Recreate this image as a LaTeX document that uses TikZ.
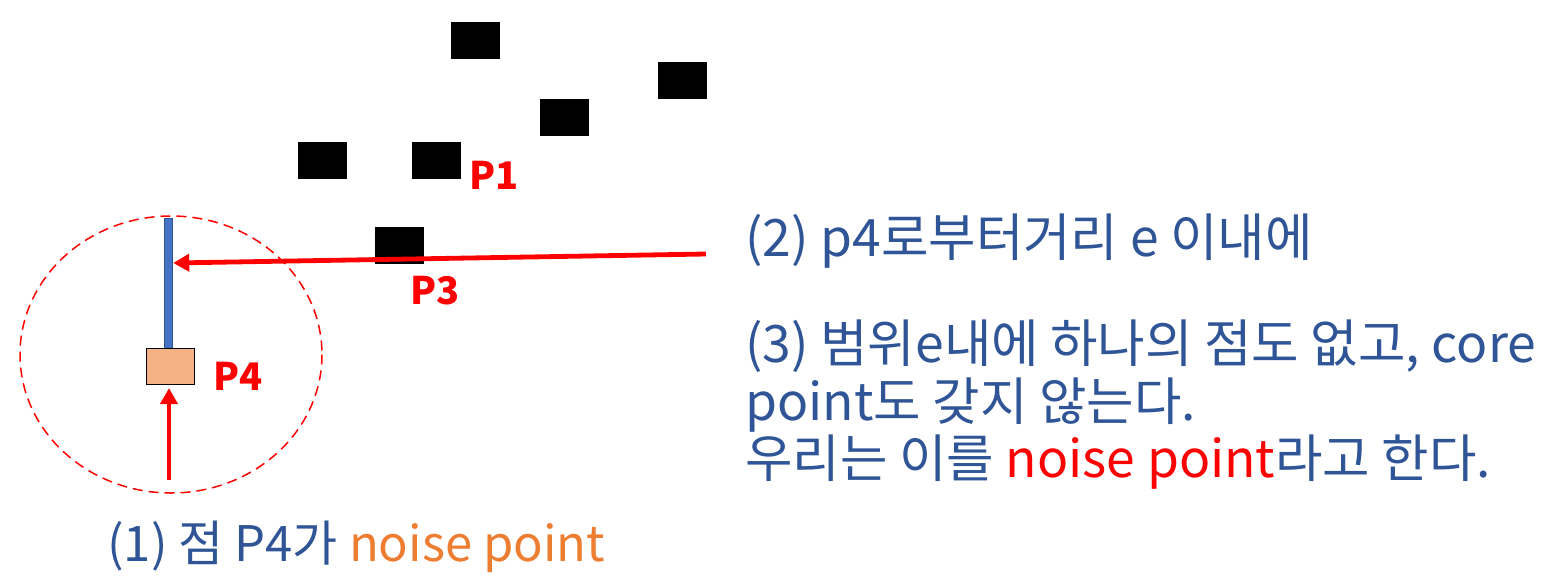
\documentclass[tikz,border=0pt]{standalone}
\usepackage{fontspec}
\setmainfont{Noto Sans CJK KR}
\usepackage{tikz}
\usetikzlibrary{arrows.meta,positioning,calc}

\definecolor{txtblue}{HTML}{2F5597}
\definecolor{noiseorange}{HTML}{ED7D31}
\definecolor{ptred}{HTML}{FF0000}
\definecolor{p4fill}{HTML}{F4B183}
\definecolor{barfill}{HTML}{4472C4}
\definecolor{bardraw}{HTML}{2F528F}

\begin{document}
\begin{tikzpicture}[
    x=0.5pt, y=-0.5pt,
    datapt/.style={
        rectangle,
        fill=black,
        minimum width=24.5pt,
        minimum height=18.5pt,
        inner sep=0pt
    },
    noisept/.style={
        rectangle,
        draw=black,
        fill=p4fill,
        line width=0.6pt,
        minimum width=24pt,
        minimum height=18pt,
        inner sep=0pt
    },
    reach/.style={
        rectangle,
        draw=bardraw,
        fill=barfill,
        line width=0.7pt,
        minimum width=4pt,
        minimum height=65pt,
        inner sep=0pt
    },
    ptlabel/.style={
        text=ptred,
        font=\fontsize{19}{23}\selectfont\bfseries,
        anchor=base west,
        inner sep=0pt
    },
    note/.style={
        text=txtblue,
        font=\fontsize{25.8}{30}\selectfont,
        anchor=base west,
        inner sep=0pt
    },
    redarrow/.style={
        -{Triangle[length=8pt,width=8.5pt]},
        draw=ptred,
        line width=2.4pt
    },
    epsring/.style={
        draw=ptred,
        line width=0.75pt,
        dash pattern=on 5pt off 3pt
    }
]
\useasboundingbox (0,0) rectangle (1560,580);

% other points
\node[datapt] (pa) at (475.5,40.5) {};
\node[datapt] (pb) at (682.5,80.5) {};
\node[datapt] (pc) at (564.5,117) {};
\node[datapt] (pd) at (322.5,160.5) {};
\node[datapt] (p1) at (436.5,160.5) {};
\node[datapt] (p3) at (399.5,245) {};

% noise point and its range
\draw[epsring] (171,354.5) ellipse [x radius=151, y radius=138.5];
\node[reach] (bar) at (168.5,283.5) {};
\node[noisept] (p4) at (170.5,366.5) {};

\node[ptlabel] (l1) at (469,189) {P1};
\node[ptlabel] (l3) at (410,304) {P3};
\node[ptlabel] (l4) at (213,390) {P4};

% notes
\node[note] (n2) at (745,256) {(2) p4로부터거리 e 이내에};
\node[note] (n3a) at (745,362) {(3) 범위e내에 하나의 점도 없고, core};
\node[note] (n3b) at (745,420) {point도 갖지 않는다.};
\node[note] (n3c) at (745,477) {우리는 이를 \textcolor{ptred}{noise point}라고 한다.};
\node[note, font=\fontsize{24.5}{29}\selectfont] (n1) at (107,561) {(1) 점 P4가 \textcolor{noiseorange}{noise point}};

\coordinate (src2) at (706,254);
\coordinate (src1) at (169,480);

\draw[redarrow] (src2) -- ($(bar.east)+(0,-20.5)$);
\draw[redarrow, shorten >=1.5pt] (src1) -- (src1 |- p4.south);

\end{tikzpicture}
\end{document}
